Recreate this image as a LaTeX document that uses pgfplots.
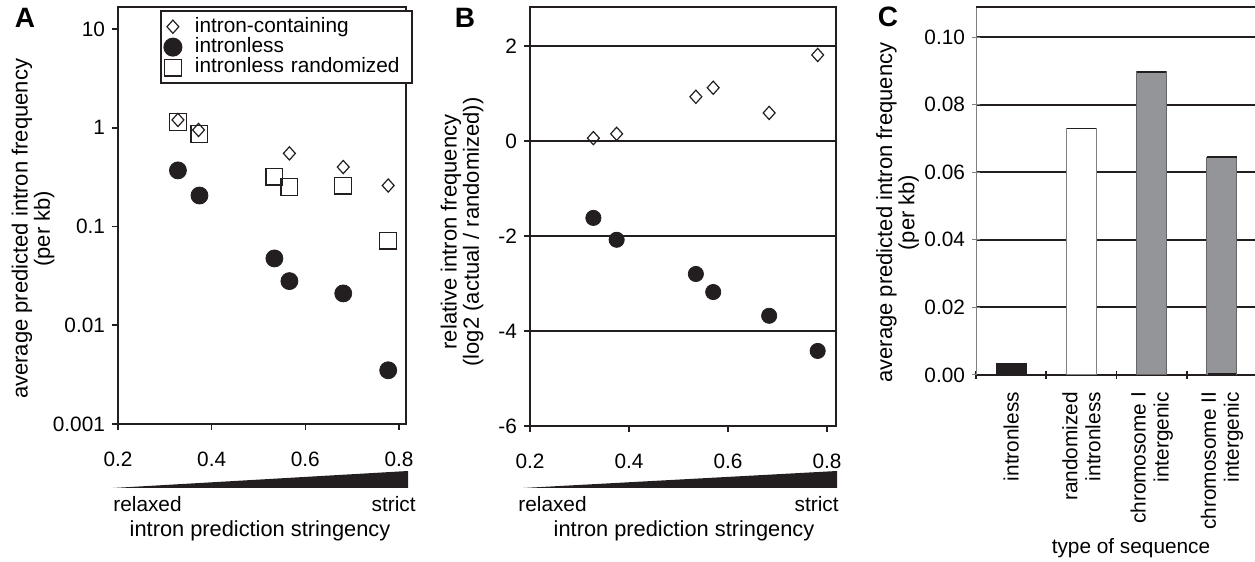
\documentclass[border=0pt]{standalone}
\usepackage{fontspec}
\setmainfont{Liberation Sans}
\usepackage{pgfplots}
\pgfplotsset{compat=1.18}

\definecolor{ink}{RGB}{35,31,32}
\definecolor{bargrey}{RGB}{147,149,152}

\newcommand{\fs}{\fontsize{10.4}{11.5}\selectfont}
\newcommand{\fl}{\fontsize{11}{11.2}\selectfont}

\pgfplotsset{
  panel/.style={
    scale only axis, anchor=south west,
    font=\fs, tick label style={font=\fs}, label style={font=\fl},
    tick align=outside, major tick length=3pt,
    xtick pos=bottom, ytick pos=left,
    axis line style={ink, line width=1pt},
    tick style={ink, line width=0.8pt},
    xticklabel shift=7.5pt,
    clip=false,
  },
  dia/.style={only marks, mark=diamond, mark size=3.3pt, line width=0.6pt,
    mark options={xscale=1.2, draw=ink, fill=white}},
  dot/.style={only marks, mark=*, mark size=#1, mark options={draw=ink, fill=ink}},
  sq/.style={only marks, mark=square, mark size=4.2pt, line width=0.6pt,
    mark options={draw=ink, fill=white}},
}

\begin{document}
\begin{tikzpicture}
\useasboundingbox (0,0) rectangle (627.5pt,281pt);

% panel A
\begin{axis}[panel,
  at={(59pt,69pt)}, width=144pt, height=208.5pt,
  ymode=log, ymin=0.001, ymax=16.7, yminorticks=false,
  xmin=0.2, xmax=0.815,
  xtick={0.2,0.4,0.6,0.8}, xticklabels={0.2,0.4,0.6,0.8},
  ytick={0.001,0.01,0.1,1,10}, yticklabels={0.001,0.01,0.1,1,10},
  ylabel={average predicted intron frequency\\(per kb)},
  ylabel style={align=center, at={(axis description cs:-0.295,0.468)}, anchor=center},
  legend style={at={(1.024,0.993)}, anchor=north east, draw=ink, line width=1pt,
    font=\fs, inner xsep=1.5pt, inner ysep=3pt, row sep=0.4pt,
    /tikz/every odd column/.append style={column sep=5.5pt},
    nodes={inner sep=0pt, text height=7.6pt, text depth=2.2pt,
      text width=107pt, align=left}},
  legend cell align=left,
  legend image code/.code={
    \path[draw=none, fill=none] (0pt,-3pt) rectangle (10pt,3pt);
    \draw[#1] plot coordinates {(4.5pt,0pt)};},
]
\addplot[dia] coordinates {(0.328,1.2) (0.372,0.95) (0.566,0.55) (0.681,0.40) (0.777,0.26)};
\addlegendentry{intron-containing}
\addplot[dot=4.25pt] coordinates {(0.328,0.37) (0.374,0.206) (0.534,0.0475) (0.566,0.028) (0.681,0.021) (0.777,0.0035)};
\addlegendentry{intronless}
\addplot[sq] coordinates {(0.328,1.15) (0.374,0.87) (0.534,0.32) (0.566,0.25) (0.681,0.26) (0.777,0.072)};
\addlegendentry{intronless randomized}
\end{axis}

% panel B
\begin{axis}[panel,
  at={(265pt,68pt)}, width=153pt, height=209.5pt,
  xmin=0.2, xmax=0.818, ymin=-6, ymax=2.82,
  xtick={0.2,0.4,0.6,0.8}, xticklabels={0.2,0.4,0.6,0.8},
  ytick={-6,-4,-2,0,2}, yticklabels={-6,-4,-2,0,2},
  ymajorgrids, major grid style={ink, line width=1pt},
  ylabel={relative intron frequency\\(log2 (actual / randomized))},
  ylabel style={align=center, at={(axis description cs:-0.222,0.463)}, anchor=center},
]
\addplot[dia] coordinates {(0.328,0.06) (0.375,0.15) (0.535,0.93) (0.570,1.12) (0.683,0.59) (0.781,1.81)};
\addplot[dot=3.8pt] coordinates {(0.328,-1.62) (0.375,-2.08) (0.535,-2.80) (0.570,-3.18) (0.683,-3.68) (0.781,-4.42)};
\end{axis}

% panel C
\begin{axis}[panel,
  at={(488pt,93.5pt)}, width=139.5pt, height=184.5pt,
  xmin=-0.5, xmax=3.47, ymin=0, ymax=0.1092,
  axis x line=bottom, axis y line=left,
  x axis line style={ink, line width=1pt, -},
  y axis line style={gray, line width=0.5pt, -},
  major tick length=4pt, xticklabel shift=5pt,
  xtick={-0.5,0.5,1.5,2.5}, xticklabels={},
  xtick style={ink, line width=0.8pt},
  ytick style={gray, line width=0.5pt},
  ytick={0,0.02,0.04,0.06,0.08,0.10},
  yticklabels={0.00,0.02,0.04,0.06,0.08,0.10},
  ymajorgrids, major grid style={ink, line width=1pt},
  extra y ticks={0.109}, extra y tick labels={},
  extra y tick style={major tick length=0pt},
  extra x ticks={0,1,2,3},
  extra x tick labels={intronless,{randomized\\intronless},{chromosome I\\intergenic},{chromosome II\\intergenic}},
  extra x tick style={major tick length=0pt, grid=none,
    xticklabel style={rotate=90, anchor=east, align=right}},
  ylabel={average predicted intron frequency\\(per kb)},
  ylabel style={align=center, at={(axis description cs:-0.281,0.44)}, anchor=center},
]
\addplot[ybar, bar width=15pt, bar shift=0pt, fill=ink, draw=ink, line width=0.4pt] coordinates {(0,0.0035)};
\addplot[ybar, bar width=15pt, bar shift=0pt, fill=white, draw=gray, line width=0.5pt] coordinates {(1,0.0729)};
\addplot[ybar, bar width=15pt, bar shift=0pt, fill=bargrey, draw=black!60, line width=0.5pt] coordinates {(2,0.0897)};
\addplot[ybar, bar width=15pt, bar shift=0pt, fill=bargrey, draw=black!60, line width=0.5pt] coordinates {(3,0.0645)};
\addplot[ybar, bar width=14pt, bar shift=0pt, fill=ink, draw=none] coordinates {(3,0.0006)};
\addplot[ink, line width=0.8pt] coordinates {(0.79,0.0729) (1.21,0.0729)};
\addplot[ink, line width=0.8pt] coordinates {(1.79,0.0897) (2.21,0.0897)};
\addplot[ink, line width=0.8pt] coordinates {(2.79,0.0645) (3.21,0.0645)};
\end{axis}

% stringency wedges and labels
\fill[ink] (56.5pt,37pt) -- (204pt,37pt) -- (204pt,45.5pt) -- cycle;
\node[anchor=west, font=\fs, inner sep=0pt] at (56.5pt,29pt) {relaxed};
\node[anchor=east, font=\fs, inner sep=0pt] at (208pt,29pt) {strict};
\node[font=\fontsize{10.9}{12}\selectfont, inner sep=0pt] at (130pt,15.5pt) {intron prediction stringency};

\fill[ink] (261.5pt,37pt) -- (418.5pt,37pt) -- (418.5pt,45.5pt) -- cycle;
\node[anchor=west, font=\fs, inner sep=0pt] at (259pt,29pt) {relaxed};
\node[anchor=east, font=\fs, inner sep=0pt] at (419.5pt,29pt) {strict};
\node[font=\fontsize{10.9}{12}\selectfont, inner sep=0pt] at (342pt,15.5pt) {intron prediction stringency};

\node[font=\fs, inner sep=0pt] at (565.5pt,7pt) {type of sequence};

% panel letters
\node[font=\fontsize{14}{16}\selectfont\bfseries] at (12.5pt,272pt) {A};
\node[font=\fontsize{14}{16}\selectfont\bfseries] at (232.5pt,272pt) {B};
\node[font=\fontsize{14}{16}\selectfont\bfseries] at (444pt,272.5pt) {C};
\end{tikzpicture}
\end{document}
